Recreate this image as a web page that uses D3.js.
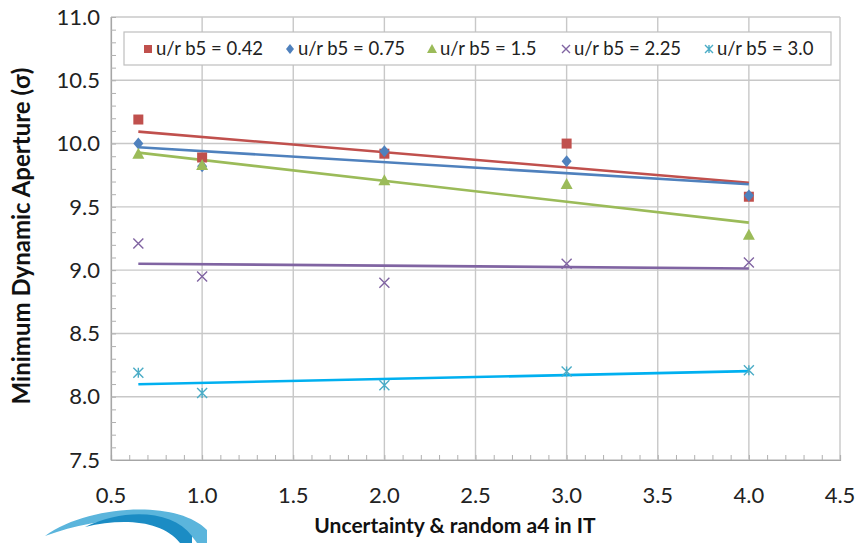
<!DOCTYPE html>
<html>
<head>
<meta charset="utf-8">
<script src="https://cdn.jsdelivr.net/npm/d3@7"></script>
<style>
  body { margin: 0; background: #fff; }
  text { font-family: Lato, "Open Sans", sans-serif; }
</style>
</head>
<body>
<div id="chart"></div>
<script>
// chart data
var xValues = [0.65, 1.0, 2.0, 3.0, 4.0];
var seriesNames = ["u/r b5 = 0.42", "u/r b5 = 0.75", "u/r b5 = 1.5", "u/r b5 = 2.25", "u/r b5 = 3.0"];
var b5_042 = [10.19, 9.89, 9.92, 10.00, 9.58];
var b5_075 = [10.00, 9.82, 9.94, 9.86, 9.59];
var b5_150 = [9.92, 9.83, 9.71, 9.68, 9.28];
var b5_225 = [9.21, 8.95, 8.90, 9.05, 9.06];
var b5_300 = [8.19, 8.03, 8.09, 8.20, 8.21];
var xTicks = [0.5, 1.0, 1.5, 2.0, 2.5, 3.0, 3.5, 4.0, 4.5];
var yTicks = [7.5, 8.0, 8.5, 9.0, 9.5, 10.0, 10.5, 11.0];

var svgWidth = 857;
var svgHeight = 543;
var margin = { top: 17, right: 17, bottom: 83, left: 111 };
var width = svgWidth - margin.left - margin.right;
var height = svgHeight - margin.top - margin.bottom;

var markerColors = ["#C0504D", "#4F81BD", "#9BBB59", "#8064A2", "#4BACC6"];
var lineColors = ["#C0504D", "#4F81BD", "#9BBB59", "#8064A2", "#00B0F0"];
var shapes = ["square", "diamond", "triangle", "cross", "star"];
var allSeries = [b5_042, b5_075, b5_150, b5_225, b5_300];

var svg = d3.select("#chart")
  .append("svg")
  .attr("width", svgWidth)
  .attr("height", svgHeight);

var chartGroup = svg.append("g")
  .attr("transform", `translate(${margin.left}, ${margin.top})`);

var xScale = d3.scaleLinear().domain([0.5, 4.5]).range([0, width]);
var yScale = d3.scaleLinear().domain([7.5, 11.0]).range([height, 0]);

// gridlines
chartGroup.append("g")
  .selectAll("line")
  .data(xTicks)
  .enter()
  .append("line")
  .attr("x1", d => xScale(d))
  .attr("x2", d => xScale(d))
  .attr("y1", 0)
  .attr("y2", height)
  .attr("stroke", "#c8c8c8")
  .attr("stroke-width", 1.4);

chartGroup.append("g")
  .selectAll("line")
  .data(yTicks)
  .enter()
  .append("line")
  .attr("x1", 0)
  .attr("x2", width)
  .attr("y1", d => yScale(d))
  .attr("y2", d => yScale(d))
  .attr("stroke", "#c8c8c8")
  .attr("stroke-width", 1.4);

// minor ticks pointing inside
var xMinor = d3.range(5, 46).map(d => d / 10);
var yMinor = d3.range(75, 111).map(d => d / 10);

var xAxis = chartGroup.append("g")
  .attr("transform", `translate(0, ${height})`)
  .call(d3.axisTop(xScale).tickValues(xMinor).tickSize(5).tickFormat(""));
var yAxis = chartGroup.append("g")
  .call(d3.axisRight(yScale).tickValues(yMinor).tickSize(5).tickFormat(""));
[xAxis, yAxis].forEach(a => {
  a.selectAll("path").attr("stroke", "#a6a6a6").attr("stroke-width", 1.2);
  a.selectAll("line").attr("stroke", "#b0b0b0");
});

// tick labels
chartGroup.append("g")
  .selectAll("text")
  .data(xTicks)
  .enter()
  .append("text")
  .attr("x", d => xScale(d))
  .attr("y", height + 43)
  .attr("text-anchor", "middle")
  .attr("font-size", 22)
  .attr("fill", "#222")
  .text(d => d.toFixed(1));

chartGroup.append("g")
  .selectAll("text")
  .data(yTicks)
  .enter()
  .append("text")
  .attr("x", -11)
  .attr("y", d => yScale(d))
  .attr("dy", "0.35em")
  .attr("text-anchor", "end")
  .attr("font-size", 22)
  .attr("fill", "#222")
  .text(d => d.toFixed(1));

// axis titles
svg.append("text")
  .attr("transform", "translate(30, 236) rotate(-90)")
  .attr("text-anchor", "middle")
  .attr("font-size", 24)
  .attr("font-weight", "bold")
  .attr("fill", "#111")
  .text("Minimum Dynamic Aperture (σ)");

svg.append("text")
  .attr("x", 455)
  .attr("y", 533)
  .attr("text-anchor", "middle")
  .attr("font-size", 21)
  .attr("font-weight", "bold")
  .attr("fill", "#111")
  .text("Uncertainty & random a4 in IT");

// markers
function drawMarker(g, shape, color, size) {
  var s = size / 2;
  if (shape === "square") {
    g.append("rect").attr("x", -s).attr("y", -s).attr("width", size).attr("height", size).attr("fill", color);
  } else if (shape === "diamond") {
    g.append("path").attr("d", `M0,${-s - 1}L${s},0L0,${s + 1}L${-s},0Z`).attr("fill", color);
  } else if (shape === "triangle") {
    g.append("path").attr("d", `M0,${-s - 1}L${s + 1},${s}L${-s - 1},${s}Z`).attr("fill", color);
  } else if (shape === "cross") {
    g.append("path").attr("d", `M${-s},${-s}L${s},${s}M${s},${-s}L${-s},${s}`)
      .attr("stroke", color).attr("stroke-width", 1.4).attr("fill", "none");
  } else {
    g.append("path").attr("d", `M${-s},${-s}L${s},${s}M${s},${-s}L${-s},${s}M0,${-s}L0,${s}`)
      .attr("stroke", color).attr("stroke-width", 1.4).attr("fill", "none");
  }
}

// linear trendlines (least squares) from the data
function fitLine(xs, ys) {
  var mx = d3.mean(xs), my = d3.mean(ys);
  var sxy = d3.sum(xs, (x, i) => (x - mx) * (ys[i] - my));
  var sxx = d3.sum(xs, x => (x - mx) * (x - mx));
  var slope = sxy / sxx;
  return x => my + slope * (x - mx);
}

var xMin = d3.min(xValues), xMax = d3.max(xValues);

allSeries.forEach((ys, i) => {
  var f = fitLine(xValues, ys);
  chartGroup.append("line")
    .attr("x1", xScale(xMin))
    .attr("y1", yScale(f(xMin)))
    .attr("x2", xScale(xMax))
    .attr("y2", yScale(f(xMax)))
    .attr("stroke", lineColors[i])
    .attr("stroke-width", 2.6);
});

allSeries.forEach((ys, i) => {
  chartGroup.append("g")
    .selectAll("g")
    .data(ys)
    .enter()
    .append("g")
    .attr("transform", (d, j) => `translate(${xScale(xValues[j])}, ${yScale(d)})`)
    .each(function() { drawMarker(d3.select(this), shapes[i], markerColors[i], 10); });
});

// legend
var legend = svg.append("g").attr("transform", "translate(124, 32)");
legend.append("rect")
  .attr("width", 707)
  .attr("height", 33)
  .attr("fill", "#fff")
  .attr("stroke", "#bfbfbf")
  .attr("stroke-width", 1.2);

var legendX = [24, 166, 308, 442, 585];
seriesNames.forEach((name, i) => {
  var item = legend.append("g").attr("transform", `translate(${legendX[i]}, 17)`);
  var mg = item.append("g");
  drawMarker(mg, shapes[i], markerColors[i], 8);
  item.append("text")
    .attr("x", 8)
    .attr("dy", "0.35em")
    .attr("font-size", 18.5)
    .attr("fill", "#222")
    .text(name);
});

// logo fragment at the bottom left
var logo = svg.append("g");
logo.append("path")
  .attr("d", "M45,536 C90,504 178,500 207,530 L207,543 L197,543 C180,514 110,512 45,536 Z")
  .attr("fill", "#5bb5dc");
logo.append("path")
  .attr("d", "M85,527 C125,508 172,510 192,536 L192,543 L180,543 C162,520 122,518 85,527 Z")
  .attr("fill", "#1b8cc4");
</script>
</body>
</html>
